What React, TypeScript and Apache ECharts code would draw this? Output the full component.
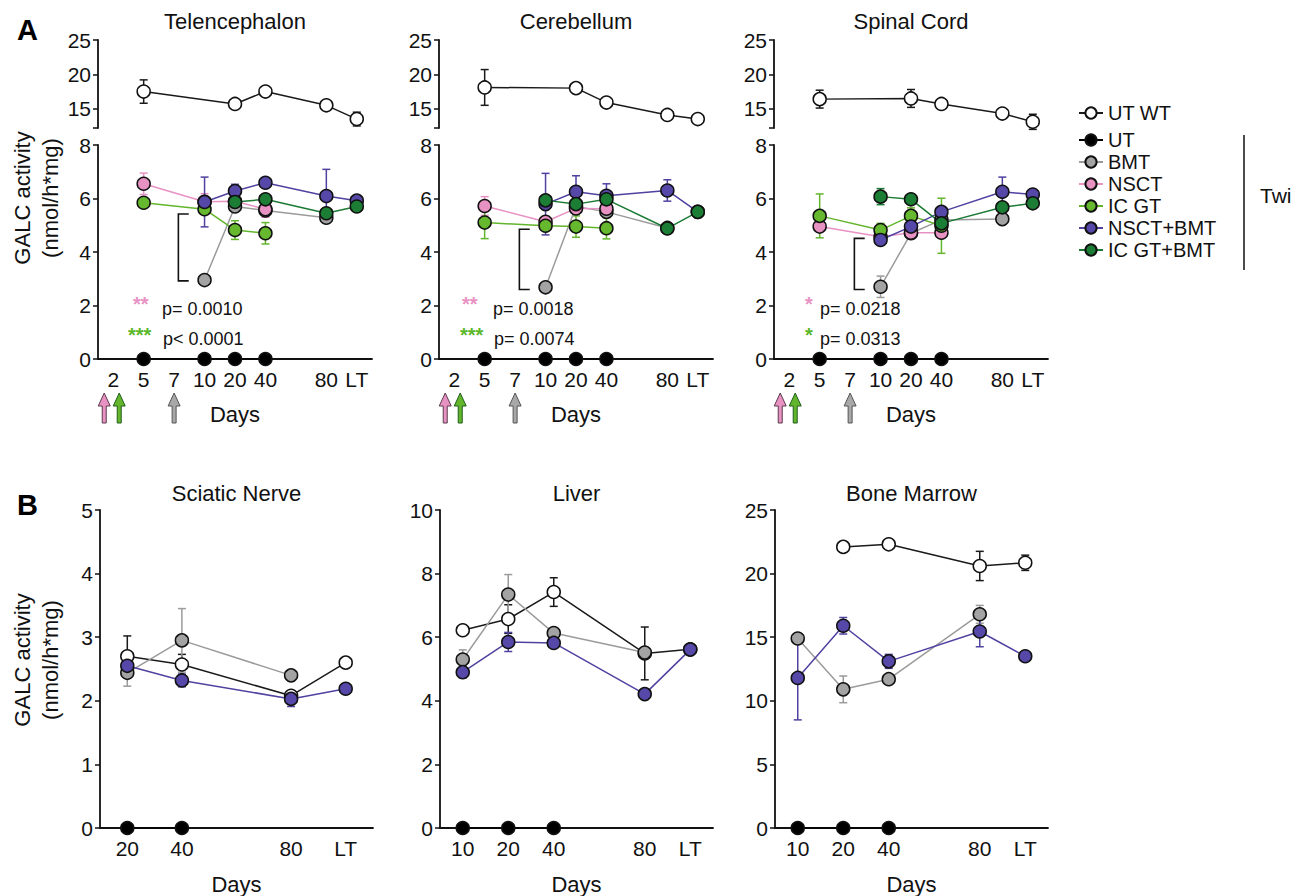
import React, { useEffect, useRef } from "react";
import * as echarts from "echarts";

// ---------- categories ----------
const daysA = ["2", "5", "7", "10", "20", "40", "", "80", "LT"];
const daysSciatic = ["20", "40", "", "80", "LT"];
const daysB = ["10", "20", "40", "", "80", "LT"];

// ---------- Panel A: Telencephalon ----------
const telUTWT = [null, 17.5, null, null, 15.7, 17.5, null, 15.5, 13.5];
const telUTWTErr = [null, 1.7, null, null, 0.3, 0.3, null, 0.3, 1.0];
const telUT = [null, 0, null, 0, 0, 0, null, null, null];
const telBMT = [null, null, null, 2.95, 5.7, 5.55, null, 5.28, null];
const telBMTErr = [null, null, null, 0.1, 0.15, 0.1, null, 0.15, null];
const telNSCT = [null, 6.55, null, 5.88, 5.9, 5.6, null, null, null];
const telNSCTErr = [null, 0.4, null, 0.3, 0.2, 0.3, null, null, null];
const telICGT = [null, 5.84, null, 5.6, 4.82, 4.7, null, null, null];
const telICGTErr = [null, 0.1, null, 0.15, 0.35, 0.4, null, null, null];
const telNSCTBMT = [null, null, null, 5.87, 6.28, 6.59, null, 6.09, 5.92];
const telNSCTBMTErr = [null, null, null, 0.93, 0.25, 0.1, null, 1.0, 0.1];
const telICGTBMT = [null, null, null, null, 5.87, 5.97, null, 5.45, 5.7];
const telICGTBMTErr = [null, null, null, null, 0.1, 0.1, null, 0.1, 0.1];

// ---------- Panel A: Cerebellum ----------
const cerUTWT = [null, 18.1, null, null, 18.0, 15.9, null, 14.1, 13.5];
const cerUTWTErr = [null, 2.6, null, null, 0.3, 0.3, null, 0.3, 0.6];
const cerUT = [null, 0, null, 0, 0, 0, null, null, null];
const cerBMT = [null, null, null, 2.68, 5.7, 5.5, null, 4.9, null];
const cerBMTErr = [null, null, null, 0.1, 0.15, 0.1, null, 0.1, null];
const cerNSCT = [null, 5.72, null, 5.13, 5.63, 5.62, null, null, null];
const cerNSCTErr = [null, 0.35, null, 0.2, 0.2, 0.2, null, null, null];
const cerICGT = [null, 5.1, null, 4.98, 4.95, 4.89, null, null, null];
const cerICGTErr = [null, 0.6, null, 0.1, 0.4, 0.4, null, null, null];
const cerNSCTBMT = [null, null, null, 5.79, 6.25, 6.1, null, 6.3, 5.5];
const cerNSCTBMTErr = [null, null, null, 1.15, 0.6, 0.45, null, 0.4, 0.1];
const cerICGTBMT = [null, null, null, 5.93, 5.79, 5.97, null, 4.88, 5.5];
const cerICGTBMTErr = [null, null, null, 0.1, 0.1, 0.3, null, 0.1, 0.1];

// ---------- Panel A: Spinal Cord ----------
const spUTWT = [null, 16.4, null, null, 16.5, 15.7, null, 14.3, 13.1];
const spUTWTErr = [null, 1.3, null, null, 1.3, 0.3, null, 0.3, 1.1];
const spUT = [null, 0, null, 0, 0, 0, null, null, null];
const spBMT = [null, null, null, 2.7, 4.7, 5.2, null, 5.23, null];
const spBMTErr = [null, null, null, 0.4, 0.1, 0.1, null, 0.1, null];
const spNSCT = [null, 4.95, null, 4.57, 4.72, 4.72, null, null, null];
const spNSCTErr = [null, 0.1, null, 0.1, 0.1, 0.15, null, null, null];
const spICGT = [null, 5.35, null, 4.82, 5.35, 4.98, null, null, null];
const spICGTErr = [null, 0.82, null, 0.25, 0.3, 1.03, null, null, null];
const spNSCTBMT = [null, null, null, 4.45, 4.95, 5.5, null, 6.25, 6.15];
const spNSCTBMTErr = [null, null, null, 0.1, 0.1, 0.1, null, 0.55, 0.1];
const spICGTBMT = [null, null, null, 6.07, 5.97, 5.07, null, 5.67, 5.82];
const spICGTBMTErr = [null, null, null, 0.3, 0.1, 0.1, null, 0.1, 0.1];

// significance annotations (panel A)
const bracketTop = [5.42, 4.85, 4.51];
const bracketBottom = [2.92, 2.6, 2.6];
const starsNSCT = ["**", "**", "*"];
const starsICGT = ["***", "***", "*"];
const pNSCT = ["p= 0.0010", "p= 0.0018", "p= 0.0218"];
const pICGT = ["p< 0.0001", "p= 0.0074", "p= 0.0313"];

// ---------- Panel B: Sciatic Nerve ----------
const sciUTWT = [2.7, 2.57, null, 2.08, 2.6];
const sciUTWTErr = [0.32, 0.16, null, 0.05, 0.05];
const sciUT = [0, 0, null, null, null];
const sciBMT = [2.44, 2.95, null, 2.4, null];
const sciBMTErr = [0.21, 0.5, null, 0.05, null];
const sciNSCTBMT = [2.55, 2.32, null, 2.03, 2.19];
const sciNSCTBMTErr = [0.15, 0.1, null, 0.12, 0.08];

// ---------- Panel B: Liver ----------
const livUTWT = [6.22, 6.57, 7.42, null, 5.49, 5.62];
const livUTWTErr = [0.1, 0.45, 0.45, null, 0.83, 0.1];
const livUT = [0, 0, 0, null, null, null];
const livBMT = [5.3, 7.34, 6.13, null, 5.52, null];
const livBMTErr = [0.3, 0.63, 0.1, null, 0.1, null];
const livNSCTBMT = [4.9, 5.85, 5.82, null, 4.21, 5.61];
const livNSCTBMTErr = [0.18, 0.3, 0.1, null, 0.1, 0.1];

// ---------- Panel B: Bone Marrow ----------
const bmUTWT = [null, 22.1, 22.3, null, 20.6, 20.85];
const bmUTWTErr = [null, 0.4, 0.2, null, 1.15, 0.6];
const bmUT = [0, 0, 0, null, null, null];
const bmBMT = [14.9, 10.9, 11.7, null, 16.8, null];
const bmBMTErr = [0.2, 1.05, 0.2, null, 0.7, null];
const bmNSCTBMT = [11.8, 15.9, 13.1, null, 15.45, 13.5];
const bmNSCTBMTErr = [3.3, 0.65, 0.55, null, 1.2, 0.1];

const legendTop = ["UT WT"];
const legendRest = ["UT", "BMT", "NSCT", "IC GT", "NSCT+BMT", "IC GT+BMT"];

// ---------- styles ----------
const FONT = "'Liberation Sans', Arial, Helvetica, sans-serif";
const INK = "#111111";
const STY: Record<string, { line: string; fill: string }> = {
  "UT WT": { line: "#1a1a1a", fill: "#ffffff" },
  UT: { line: "#000000", fill: "#000000" },
  BMT: { line: "#9b9b9b", fill: "#a3a3a3" },
  NSCT: { line: "#e892c3", fill: "#e892c3" },
  "IC GT": { line: "#63b52c", fill: "#66b82e" },
  "NSCT+BMT": { line: "#4f42a0", fill: "#5548a8" },
  "IC GT+BMT": { line: "#1b7a34", fill: "#1c7d35" },
};

const LEFT_A = [98, 439, 774];
const LEFT_B = [100, 440, 775];
const W_A = 274;
const W_B = 273;

function errRender(color: string) {
  return (params: any, api: any) => {
    const x = api.value(0);
    const lo = api.coord([x, api.value(1)]);
    const hi = api.coord([x, api.value(2)]);
    const w = 4;
    const st = { stroke: color, lineWidth: 1.5 };
    return {
      type: "group",
      children: [
        { type: "line", shape: { x1: lo[0], y1: lo[1], x2: hi[0], y2: hi[1] }, style: st },
        { type: "line", shape: { x1: hi[0] - w, y1: hi[1], x2: hi[0] + w, y2: hi[1] }, style: st },
        { type: "line", shape: { x1: lo[0] - w, y1: lo[1], x2: lo[0] + w, y2: lo[1] }, style: st },
      ],
    };
  };
}

function arrowShape(x: number, yt: number, yb: number, fill: string, stroke: string) {
  return {
    type: "polygon",
    shape: {
      points: [
        [x, yt],
        [x + 6, yt + 13],
        [x + 2, yt + 13],
        [x + 2, yb],
        [x - 2, yb],
        [x - 2, yt + 13],
        [x - 6, yt + 13],
      ],
    },
    style: { fill, stroke, lineWidth: 1 },
  };
}

function buildOption() {
  const grids: any[] = [];
  const xAxes: any[] = [];
  const yAxes: any[] = [];
  const series: any[] = [];
  const graphic: any[] = [];

  const xCat = (gridIndex: number, cats: string[], show: boolean) => ({
    type: "category",
    gridIndex,
    data: cats,
    boundaryGap: true,
    show,
    axisLine: { onZero: false, lineStyle: { color: INK, width: 1.8 } },
    axisTick: {
      alignWithLabel: true,
      length: 5,
      lineStyle: { color: INK, width: 1.5 },
      interval: (_i: number, v: string) => v !== "",
    },
    axisLabel: { color: INK, fontSize: 21, fontFamily: FONT, margin: 10, interval: 0 },
    splitLine: { show: false },
  });

  const yVal = (gridIndex: number, min: number, max: number, interval: number | undefined, extra: any = {}) => ({
    type: "value",
    gridIndex,
    min,
    max,
    interval,
    axisLine: { show: true, onZero: false, lineStyle: { color: INK, width: 1.8 } },
    axisTick: { show: true, length: 5, lineStyle: { color: INK, width: 1.5 }, ...(extra.axisTick || {}) },
    axisLabel: { color: INK, fontSize: 21, fontFamily: FONT, margin: 7, ...(extra.axisLabel || {}) },
    splitLine: { show: false },
  });

  const addGroup = (name: string, ax: number, values: any[], errs: any[] | null) => {
    const s = STY[name];
    if (errs) {
      const data = values
        .map((v, i) => (v != null && errs[i] ? [i, v - errs[i], v + errs[i]] : null))
        .filter((d) => d !== null);
      series.push({
        type: "custom",
        xAxisIndex: ax,
        yAxisIndex: ax,
        data,
        encode: { x: 0, y: [1, 2] },
        renderItem: errRender(s.line),
        z: 2,
        silent: true,
        clip: false,
      });
    }
    series.push({
      type: "line",
      name,
      xAxisIndex: ax,
      yAxisIndex: ax,
      data: values,
      connectNulls: true,
      showAllSymbol: true,
      symbol: "circle",
      symbolSize: 13,
      lineStyle: { color: s.line, width: 1.5 },
      itemStyle: { color: s.fill, borderColor: INK, borderWidth: 1.5 },
      emphasis: { disabled: true },
      z: 3,
    });
  };

  const text = (x: number, y: number, t: string, opts: any = {}) => ({
    type: "text",
    x,
    y,
    rotation: opts.rotation || 0,
    z: 10,
    style: {
      text: t,
      fill: opts.fill || INK,
      fontSize: opts.fontSize || 21,
      fontFamily: FONT,
      fontWeight: opts.fontWeight || "normal",
      align: opts.align || "center",
      verticalAlign: opts.verticalAlign || "middle",
      lineHeight: opts.lineHeight,
    },
  });

  const panelsA = [
    {
      title: "Telencephalon",
      g: [
        ["UT WT", telUTWT, telUTWTErr],
        ["UT", telUT, null],
        ["BMT", telBMT, telBMTErr],
        ["NSCT", telNSCT, telNSCTErr],
        ["IC GT", telICGT, telICGTErr],
        ["NSCT+BMT", telNSCTBMT, telNSCTBMTErr],
        ["IC GT+BMT", telICGTBMT, telICGTBMTErr],
      ],
    },
    {
      title: "Cerebellum",
      g: [
        ["UT WT", cerUTWT, cerUTWTErr],
        ["UT", cerUT, null],
        ["BMT", cerBMT, cerBMTErr],
        ["NSCT", cerNSCT, cerNSCTErr],
        ["IC GT", cerICGT, cerICGTErr],
        ["NSCT+BMT", cerNSCTBMT, cerNSCTBMTErr],
        ["IC GT+BMT", cerICGTBMT, cerICGTBMTErr],
      ],
    },
    {
      title: "Spinal Cord",
      g: [
        ["UT WT", spUTWT, spUTWTErr],
        ["UT", spUT, null],
        ["BMT", spBMT, spBMTErr],
        ["NSCT", spNSCT, spNSCTErr],
        ["IC GT", spICGT, spICGTErr],
        ["NSCT+BMT", spNSCTBMT, spNSCTBMTErr],
        ["IC GT+BMT", spICGTBMT, spICGTBMTErr],
      ],
    },
  ];

  const star1X = [35, 23, 31];
  const star2X = [30, 21, 31];
  const p1X = [64, 54, 46];
  const p2X = [65, 55, 46];

  panelsA.forEach((p, i) => {
    const left = LEFT_A[i];
    const gTop = grids.length;
    grids.push({ left, top: 40, width: W_A, height: 88 });
    xAxes.push(xCat(gTop, daysA, false));
    yAxes.push(
      yVal(gTop, 12.2, 25, undefined, {
        axisLabel: { customValues: [15, 20, 25] },
        axisTick: { customValues: [12.2, 15, 20, 25] },
      })
    );
    const gLow = grids.length;
    grids.push({ left, top: 145, width: W_A, height: 214 });
    xAxes.push(xCat(gLow, daysA, true));
    yAxes.push(yVal(gLow, 0, 8, 2));

    p.g.forEach((g: any, k: number) => {
      addGroup(g[0], k === 0 ? gTop : gLow, g[1], g[2]);
    });

    // bracket + treatment arrows
    series.push({
      type: "custom",
      xAxisIndex: gLow,
      yAxisIndex: gLow,
      data: [[3, bracketTop[i], bracketBottom[i]]],
      encode: { x: 0, y: [1, 2] },
      clip: false,
      silent: true,
      z: 4,
      renderItem: (params: any, api: any) => {
        const p7 = api.coord([2, 0]);
        const p10 = api.coord([3, 0]);
        const p2 = api.coord([0, 0]);
        const xa = p7[0];
        const xb = p10[0];
        const y0 = p7[1];
        const top = api.coord([3, api.value(1)])[1];
        const bot = api.coord([3, api.value(2)])[1];
        const bx = xa + 0.14 * (xb - xa);
        const ex = xa + 0.48 * (xb - xa);
        return {
          type: "group",
          children: [
            {
              type: "polyline",
              shape: { points: [[ex, top], [bx, top], [bx, bot], [ex, bot]] },
              style: { stroke: INK, lineWidth: 1.6, fill: null },
            },
            arrowShape(p2[0] - 9, y0 + 34, y0 + 64, "#e892c3", "#5a3a4c"),
            arrowShape(p2[0] + 6, y0 + 34, y0 + 64, "#63b52c", "#1f5e1a"),
            arrowShape(xa, y0 + 34, y0 + 64, "#a8a8a8", "#555555"),
          ],
        };
      },
    });

    const cx = left + W_A / 2;
    graphic.push(text(cx, 21, p.title, { fontSize: 22 }));
    graphic.push(text(cx, 414, "Days", { fontSize: 22 }));
    graphic.push(text(left + star1X[i], 304, starsNSCT[i], { fill: "#e892c3", fontSize: 20, fontWeight: "bold", align: "left" }));
    graphic.push(text(left + star2X[i], 335, starsICGT[i], { fill: "#5cb82a", fontSize: 20, fontWeight: "bold", align: "left" }));
    graphic.push(text(left + p1X[i], 309, pNSCT[i], { fontSize: 18, align: "left" }));
    graphic.push(text(left + p2X[i], 339, pICGT[i], { fontSize: 18, align: "left" }));
  });

  const panelsB = [
    {
      title: "Sciatic Nerve",
      cats: daysSciatic,
      min: 0,
      max: 5,
      interval: 1,
      g: [
        ["UT WT", sciUTWT, sciUTWTErr],
        ["UT", sciUT, null],
        ["BMT", sciBMT, sciBMTErr],
        ["NSCT+BMT", sciNSCTBMT, sciNSCTBMTErr],
      ],
    },
    {
      title: "Liver",
      cats: daysB,
      min: 0,
      max: 10,
      interval: 2,
      g: [
        ["UT WT", livUTWT, livUTWTErr],
        ["UT", livUT, null],
        ["BMT", livBMT, livBMTErr],
        ["NSCT+BMT", livNSCTBMT, livNSCTBMTErr],
      ],
    },
    {
      title: "Bone Marrow",
      cats: daysB,
      min: 0,
      max: 25,
      interval: 5,
      g: [
        ["UT WT", bmUTWT, bmUTWTErr],
        ["UT", bmUT, null],
        ["BMT", bmBMT, bmBMTErr],
        ["NSCT+BMT", bmNSCTBMT, bmNSCTBMTErr],
      ],
    },
  ];

  panelsB.forEach((p, i) => {
    const left = LEFT_B[i];
    const gi = grids.length;
    grids.push({ left, top: 510, width: W_B, height: 318 });
    xAxes.push(xCat(gi, p.cats, true));
    yAxes.push(yVal(gi, p.min, p.max, p.interval));
    p.g.forEach((g: any) => addGroup(g[0], gi, g[1], g[2]));
    const cx = left + W_B / 2;
    graphic.push(text(cx, 493, p.title, { fontSize: 22 }));
    graphic.push(text(cx, 884, "Days", { fontSize: 22 }));
  });

  // panel letters & y-axis names
  graphic.push(text(17, 30, "A", { fontSize: 29, fontWeight: "bold", align: "left", fill: "#000" }));
  graphic.push(text(17, 505, "B", { fontSize: 29, fontWeight: "bold", align: "left", fill: "#000" }));
  graphic.push(text(36, 198, "GALC activity\n(nmol/h*mg)", { fontSize: 22, lineHeight: 28, rotation: Math.PI / 2 }));
  graphic.push(text(36, 660, "GALC activity\n(nmol/h*mg)", { fontSize: 22, lineHeight: 28, rotation: Math.PI / 2 }));

  // legend group bracket
  graphic.push({
    type: "line",
    shape: { x1: 1244, y1: 135, x2: 1244, y2: 270 },
    style: { stroke: INK, lineWidth: 1.5 },
  });
  graphic.push(text(1260, 195, "Twi", { fontSize: 21, align: "left" }));

  const legendBase = {
    orient: "vertical",
    left: 1078,
    padding: 0,
    itemWidth: 24,
    itemHeight: 14,
    itemGap: 2,
    selectedMode: false,
    textStyle: { fontSize: 20, color: INK, fontFamily: FONT, lineHeight: 20 },
  };

  return {
    animation: false,
    backgroundColor: "#ffffff",
    grid: grids,
    xAxis: xAxes,
    yAxis: yAxes,
    legend: [
      { ...legendBase, top: 103, data: legendTop },
      { ...legendBase, top: 130, data: legendRest },
    ],
    series,
    graphic,
  };
}

export default function App() {
  const ref = useRef<HTMLDivElement>(null);
  useEffect(() => {
    const chart = echarts.init(ref.current as HTMLDivElement, null, { renderer: "svg" });
    chart.setOption(buildOption() as any);
    return () => chart.dispose();
  }, []);
  return (
    <div
      ref={ref}
      style={{ position: "absolute", left: 0, top: 0, width: 1302, height: 896, background: "#fff" }}
    />
  );
}
